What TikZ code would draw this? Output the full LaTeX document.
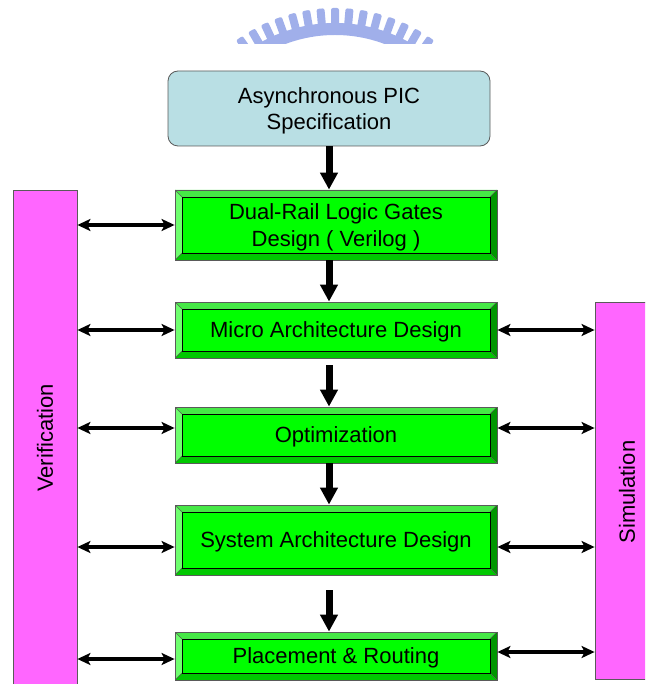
\documentclass[tikz,border=0pt]{standalone}
\usepackage{fontspec}
\setmainfont{Liberation Sans}
\usetikzlibrary{arrows.meta}

\definecolor{specfill}{RGB}{185,223,228}
\definecolor{sidefill}{RGB}{255,102,255}
\definecolor{gmain}{RGB}{0,255,0}
\definecolor{gtop}{RGB}{70,232,70}
\definecolor{gleft}{RGB}{110,255,110}
\definecolor{gbottom}{RGB}{0,200,0}
\definecolor{gright}{RGB}{0,150,0}
\definecolor{sealblue}{RGB}{160,175,234}
\definecolor{edgegray}{RGB}{90,90,90}

\tikzset{
  vlbl/.style={font=\fontsize{22}{26.5}\selectfont, align=center, inner sep=0pt},
  lbl/.style={vlbl, text depth=0pt},
  spec/.style={lbl, draw=edgegray, line width=0.8pt, fill=specfill, rounded corners=10pt,
    minimum width=322pt, minimum height=75pt},
  side/.style={draw=edgegray, line width=0.8pt, fill=sidefill, minimum width=64pt, inner sep=0pt},
  bevel/.style={lbl, draw=edgegray, line width=0.8pt, fill=gmain,
    minimum width=322pt, minimum height=#1,
    path picture={
      \path (path picture bounding box.north west) coordinate (pnw)
            (path picture bounding box.north east) coordinate (pne)
            (path picture bounding box.south west) coordinate (psw)
            (path picture bounding box.south east) coordinate (pse);
      \fill[gtop] (pnw) -- (pne) -- ([shift={(-7pt,-7pt)}]pne) -- ([shift={(7pt,-7pt)}]pnw) -- cycle;
      \fill[gleft] (pnw) -- (psw) -- ([shift={(7pt,7pt)}]psw) -- ([shift={(7pt,-7pt)}]pnw) -- cycle;
      \fill[gbottom] (psw) -- (pse) -- ([shift={(-7pt,7pt)}]pse) -- ([shift={(7pt,7pt)}]psw) -- cycle;
      \fill[gright] (pne) -- (pse) -- ([shift={(-7pt,7pt)}]pse) -- ([shift={(-7pt,-7pt)}]pne) -- cycle;
      \draw[edgegray, line width=0.4pt]
        (pnw) -- ([shift={(7pt,-7pt)}]pnw) (pne) -- ([shift={(-7pt,-7pt)}]pne)
        (psw) -- ([shift={(7pt,7pt)}]psw) (pse) -- ([shift={(-7pt,7pt)}]pse);
      \draw[black, line width=0.8pt] ([shift={(7pt,-7pt)}]pnw) rectangle ([shift={(-7pt,7pt)}]pse);
    }},
  flow/.style={line width=7pt, -{Triangle[width=17pt,length=17pt]}},
  link/.style={line width=3.5pt,
    {Stealth[length=13pt,width=12pt,inset=3pt]}-{Stealth[length=13pt,width=12pt,inset=3pt]}},
}

\begin{document}
\begin{tikzpicture}[x=1pt,y=-1pt]
\useasboundingbox (0,0) rectangle (645,684);
\clip (0,0) rectangle (645,684);

% faded seal at the top edge
\begin{scope}
  \clip (150,0) rectangle (520,44);
  \fill[sealblue, even odd rule] (335,175) circle[radius=152pt] (335,175) circle[radius=140pt];
  \foreach \a in {-45,-40,...,45}
    \fill[sealblue, rounded corners=2pt, rotate around={\a:(335,175)}] (331,8) rectangle (339,27);
\end{scope}

% side bars
\node[side, minimum height=500pt] (ver) at (45,440) {};
\node[vlbl, rotate=90] (verl) at (45,438) {Verification};
\node[side, minimum height=377pt] (sim) at (627,490.5) {};
\node[vlbl, rotate=90] (siml) at (627,492) {Simulation};

% design flow
\node[spec] (T) at (329,108.5) {Asynchronous PIC\\Specification};
\node[bevel=70pt] (b1) at (336,225) {Dual-Rail Logic Gates\\Design ( Verilog )};
\node[bevel=56pt] (b2) at (336,330) {Micro Architecture Design};
\node[bevel=56pt] (b3) at (336,435) {Optimization};
\node[bevel=70pt] (b4) at (336,540) {System Architecture Design};
\node[bevel=48pt] (b5) at (336,656) {Placement \& Routing};

% downward flow arrows
\draw[flow] (T.south) -- (T.south |- b1.north);
\draw[flow] (T.south |- b1.south) -- (T.south |- b2.north);
\path (T.south |- b2.south) ++(0,-7pt) coordinate (s3);
\draw[flow] (s3) -- (T.south |- b3.north);
\draw[flow] (T.south |- b3.south) -- (T.south |- b4.north);
\path (T.south |- b4.south) ++(0,-15pt) coordinate (s5);
\draw[flow] (s5) -- (T.south |- b5.north);

% links to verification
\path (b1.west) coordinate (l1)
      (b2.west) coordinate (l2)
      ([yshift=7pt]b3.west) coordinate (l3)
      ([yshift=-7pt]b4.west) coordinate (l4)
      ([yshift=-3pt]b5.west) coordinate (l5);
\foreach \p in {l1,l2,l3,l4,l5}
  \draw[link] (ver.east |- \p) -- (\p);

% links to simulation
\path (b2.east) coordinate (r2)
      ([yshift=7pt]b3.east) coordinate (r3)
      ([yshift=-7pt]b4.east) coordinate (r4)
      ([yshift=4pt]b5.east) coordinate (r5);
\foreach \p in {r2,r3,r4,r5}
  \draw[link] (\p) -- (sim.west |- \p);
\end{tikzpicture}
\end{document}
